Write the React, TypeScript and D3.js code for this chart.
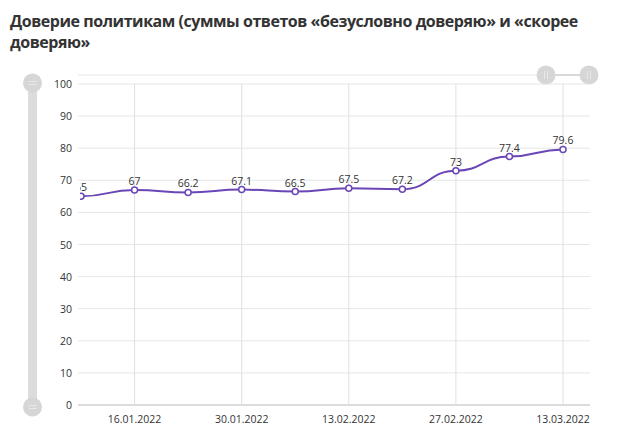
import React from "react";
import * as d3 from "d3";

const dates = ["09.01.2022","16.01.2022","23.01.2022","30.01.2022","06.02.2022","13.02.2022","20.02.2022","27.02.2022","06.03.2022","13.03.2022"];
const values = [65, 67, 66.2, 67.1, 66.5, 67.5, 67.2, 73, 77.4, 79.6];
const valueLabels = ["65","67","66.2","67.1","66.5","67.5","67.2","73","77.4","79.6"];
const xTickLabels = ["16.01.2022","30.01.2022","13.02.2022","27.02.2022","13.03.2022"];
const yTicks = [0,10,20,30,40,50,60,70,80,90,100];
const titleLines = ["Доверие политикам (суммы ответов «безусловно доверяю» и «скорее", "доверяю»"];

const W = 630, H = 440;
const plotL = 78, plotR = 590, plotT = 84, plotB = 405;
const parse = d3.timeParse("%d.%m.%Y");
const LINE = "#6b46b6";
const FONT = "'Open Sans', sans-serif";

export default function App() {
  const parsed = dates.map((d) => parse(d) as Date);
  const x = d3.scaleTime().domain([parsed[0], parsed[parsed.length - 1]]).range([81, 563]);
  const y = d3.scaleLinear().domain([0, 100]).range([plotB, plotT]);
  const data = parsed.map((d, i) => ({ d, v: values[i], l: valueLabels[i] }));
  const line = d3.line<{ d: Date; v: number }>().x((p) => x(p.d)).y((p) => y(p.v)).curve(d3.curveBumpX);

  return (
    <svg width={W} height={H} style={{ position: "absolute", left: 0, top: 0, background: "#fff" }}>
      <defs>
        <clipPath id="plotclip">
          <rect x={plotL + 2} y={plotT - 30} width={plotR - plotL} height={plotB - plotT + 40} />
        </clipPath>
      </defs>
      {titleLines.map((t, i) => (
        <text key={i} x={10} y={27 + i * 21} fontFamily={FONT} fontWeight={700} fontSize={16} letterSpacing={-0.45} fill="#333">{t}</text>
      ))}
      {/* left scrollbar */}
      <rect x={28} y={83} width={9} height={324} fill="#dcdcdc" />
      {[83, 407].map((cy, i) => (
        <g key={i}>
          <circle cx={32.5} cy={cy} r={9.5} fill="#d6d6d6" />
          <line x1={28.5} x2={36.5} y1={cy - 1.5} y2={cy - 1.5} stroke="#e8e8e8" strokeWidth={1} />
          <line x1={28.5} x2={36.5} y1={cy + 1.5} y2={cy + 1.5} stroke="#e8e8e8" strokeWidth={1} />
        </g>
      ))}
      {/* top scrollbar */}
      <line x1={plotL} x2={plotR} y1={75} y2={75} stroke="#f2f2f2" strokeWidth={2} />
      <line x1={546} x2={589} y1={75} y2={75} stroke="#cfcfcf" strokeWidth={1.5} />
      {[546, 589].map((cx, i) => (
        <g key={i}>
          <circle cx={cx} cy={75} r={9.5} fill="#d6d6d6" />
          <line x1={cx - 1.5} x2={cx - 1.5} y1={71} y2={79} stroke="#e8e8e8" />
          <line x1={cx + 1.5} x2={cx + 1.5} y1={71} y2={79} stroke="#e8e8e8" />
        </g>
      ))}
      {/* horizontal grid */}
      {yTicks.map((t) => (
        <g key={t}>
          <line x1={plotL} x2={plotR} y1={y(t)} y2={y(t)} stroke={t === 0 ? "#d0d0d0" : "#e6e6e6"} strokeWidth={t === 0 ? 1.5 : 1} />
          <text x={72} y={y(t) + 4} textAnchor="end" fontFamily={FONT} fontSize={10.5} fill="#333">{t}</text>
        </g>
      ))}
      {/* vertical grid and x labels */}
      {xTickLabels.map((lbl) => {
        const xx = x(parse(lbl) as Date);
        return (
          <g key={lbl}>
            <line x1={xx} x2={xx} y1={plotT} y2={plotB} stroke="#e0e0e0" />
            <text x={xx} y={423} textAnchor="middle" fontFamily={FONT} fontSize={10.5} fill="#333">{lbl}</text>
          </g>
        );
      })}
      <g clipPath="url(#plotclip)">
        <path d={line(data) || ""} fill="none" stroke={LINE} strokeWidth={2} />
        {data.map((p, i) => (
          <g key={i}>
            <circle cx={x(p.d)} cy={y(p.v)} r={3} fill="#fff" stroke={LINE} strokeWidth={1.5} />
            <text x={x(p.d)} y={y(p.v) - 5} textAnchor="middle" fontFamily={FONT} fontSize={10.5} fill="#333">{p.l}</text>
          </g>
        ))}
      </g>
    </svg>
  );
}
